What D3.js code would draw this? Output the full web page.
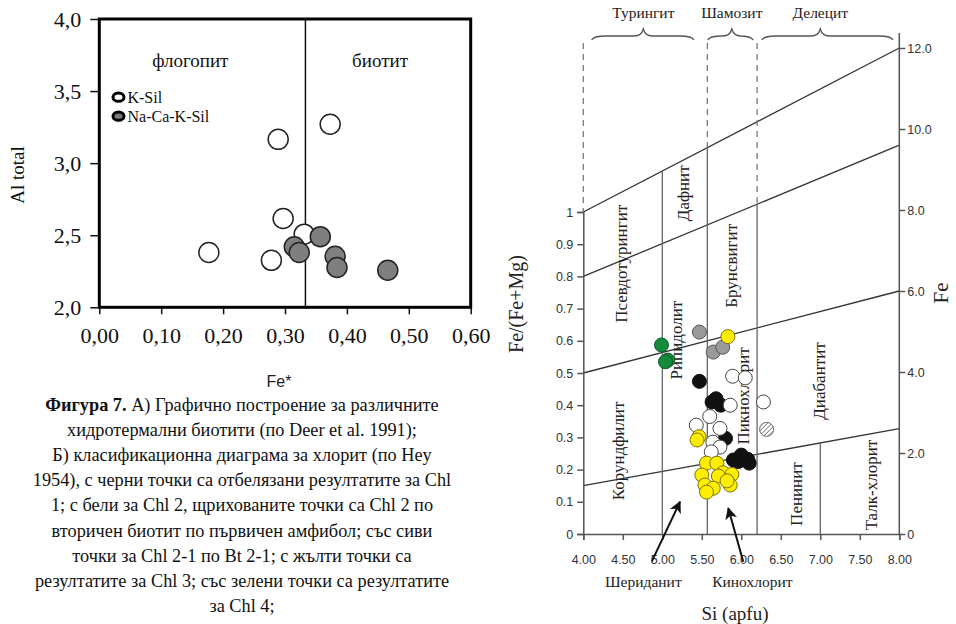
<!DOCTYPE html>
<html>
<head>
<meta charset="utf-8">
<script src="https://cdn.jsdelivr.net/npm/d3@7"></script>
<style>
  body { margin: 0; background: #fff; }
  svg { display: block; }
</style>
</head>
<body>
<svg id="fig" width="956" height="624"></svg>
<script>
// ---------- Panel A: hydrothermal biotites, Fe* vs Al total ----------
const bioKSilFe  = [0.289, 0.373, 0.297, 0.331, 0.177, 0.278];
const bioKSilAl  = [3.165, 3.270, 2.616, 2.507, 2.380, 2.326];
const bioNaCaFe  = [0.357, 0.315, 0.323, 0.381, 0.384, 0.466];
const bioNaCaAl  = [2.490, 2.420, 2.380, 2.354, 2.276, 2.257];
const feStarTicks = [0, 0.1, 0.2, 0.3, 0.4, 0.5, 0.6];
const alTicks     = [2.0, 2.5, 3.0, 3.5, 4.0];
const fieldSplitFe = 0.333;
const fieldNames   = ["флогопит", "биотит"];
const fieldNameFe  = [0.147, 0.4535];
const fieldNameAl  = 3.715;
const legendNames  = ["K-Sil", "Na-Ca-K-Sil"];
const legendAl     = [3.458, 3.326];
const legendFe     = 0.031;

// ---------- Panel B: chlorite classification (Si vs Fe/(Fe+Mg)) ----------
const chl1Si   = [5.47, 5.63, 5.68, 5.74, 5.80, 5.90, 6.00, 6.08, 6.10, 5.96];
const chl1Ratio= [0.474, 0.410, 0.420, 0.400, 0.297, 0.230, 0.245, 0.232, 0.220, 0.225];
const chl2Si   = [5.89, 6.05, 5.86, 6.28, 5.60, 5.43, 5.73, 5.64, 5.73, 5.62];
const chl2Ratio= [0.490, 0.485, 0.400, 0.410, 0.365, 0.338, 0.328, 0.285, 0.270, 0.255];
const chl2BtSi   = [6.32];
const chl2BtRatio= [0.325];
const chl21Si   = [5.47, 5.645, 5.765];
const chl21Ratio= [0.627, 0.565, 0.580];
const chl3Si   = [5.83, 5.465, 5.44, 5.56, 5.69, 5.50, 5.77, 5.88, 5.71, 5.54, 5.645, 5.86, 5.56, 5.82];
const chl3Ratio= [0.613, 0.302, 0.292, 0.220, 0.220, 0.183, 0.190, 0.185, 0.180, 0.152, 0.142, 0.152, 0.130, 0.165];
const chl4Si   = [4.99, 5.07, 5.04];
const chl4Ratio= [0.587, 0.540, 0.535];

const siTicks    = [4.0, 4.5, 5.0, 5.5, 6.0, 6.5, 7.0, 7.5, 8.0];
const ratioTicks = [0, 0.1, 0.2, 0.3, 0.4, 0.5, 0.6, 0.7, 0.8, 0.9, 1.0];
const feTicks    = [0, 2, 4, 6, 8, 10, 12];

// sloping boundaries: start as Fe/(Fe+Mg) at Si = 4, end as Fe at Si = 8
const slopeStartRatio = [1.0, 0.8, 0.5, 0.15];
const slopeEndFe      = [12.0, 9.6, 6.0, 2.6];

// vertical boundaries (Si) and the sloping line each one turns solid at
const boundSi       = [5.0, 5.57, 6.2, 7.0];
const boundSolidFrom= [0, 0, 1, 3];
const boundDashed   = [false, true, true, false];
const dashTopRatio  = 1.525;
const axisTopRatio  = 1.556;

const groupNames = ["Турингит", "Шамозит", "Делецит"];
const groupFrom  = [4.105, 5.575, 6.26];
const groupTo    = [5.40, 6.15, 7.92];
const groupTip   = [4.76, 5.88, 7.0];

const zoneNames = ["Псевдотурингит", "Дафнит", "Брунсвигит", "Рипидолит", "Пикнохлорит",
                   "Диабантит", "Корундфилит", "Пенинит", "Талк-хлорит"];
const zoneSi    = [4.486, 5.266, 5.878, 5.182, 6.022, 6.996, 4.443, 6.70, 7.65];
const zoneRatio = [0.839, 1.058, 0.833, 0.602, 0.429, 0.475, 0.258, 0.124, 0.152];

const pointerNames   = ["Шериданит", "Кинохлорит"];
const pointerFromSi  = [4.866, 6.025];
const pointerToSi    = [5.224, 5.835];
const pointerFromR   = [-0.086, -0.086];
const pointerToR     = [0.100, 0.080];
const pointerLabelSi = [4.76, 6.14];
const pointerLabelR  = [-0.146, -0.146];

const captionLines = [
  ["Фигура 7.", " А) Графично построение за различните"],
  ["", "хидротермални биотити (по Deer et al. 1991);"],
  ["", "Б) класификационна диаграма за хлорит (по Hey"],
  ["", "1954), с черни точки са отбелязани резултатите за Chl"],
  ["", "1; с бели за Chl 2, щрихованите точки са Chl 2 по"],
  ["", "вторичен биотит по първичен амфибол; със сиви"],
  ["", "точки за Chl 2-1 по Bt 2-1; с жълти точки са"],
  ["", "резултатите за Chl 3; със зелени точки са резултатите"],
  ["", "за Chl 4;"]
];

const svg = d3.select("#fig");
const serif = "'Liberation Serif', 'Times New Roman', serif";
const sans  = "'Liberation Sans', Arial, sans-serif";

// ================= Panel A =================
const xA = d3.scaleLinear().domain([0, 0.6]).range([99.3, 470.7]);
const yA = d3.scaleLinear().domain([2, 4]).range([307.3, 19]);
const gA = svg.append("g");

const commaFmt = f => d => d3.format(f)(d).replace(".", ",");

const axA_left = gA.append("g").attr("transform", `translate(${xA(0)},0)`)
  .call(d3.axisLeft(yA).tickValues(alTicks).tickFormat(commaFmt(".1f")).tickSize(9).tickPadding(9));
const axA_bot = gA.append("g").attr("transform", `translate(0,${yA(2)})`)
  .call(d3.axisBottom(xA).tickValues(feStarTicks).tickFormat(commaFmt(".2f")).tickSize(7).tickPadding(13));
[axA_left, axA_bot].forEach(a => {
  a.select(".domain").remove();
  a.selectAll(".tick line").attr("stroke", "#111").attr("stroke-width", 1.5);
  a.selectAll("text").attr("font-family", serif).attr("font-size", 22).attr("fill", "#111");
});

// field divider
gA.append("line")
  .attr("x1", xA(fieldSplitFe)).attr("x2", xA(fieldSplitFe))
  .attr("y1", yA(4)).attr("y2", yA(2))
  .attr("stroke", "#111").attr("stroke-width", 1.5);

// frame
gA.append("rect")
  .attr("x", xA(0)).attr("y", yA(4))
  .attr("width", xA(0.6) - xA(0)).attr("height", yA(2) - yA(4))
  .attr("fill", "none").attr("stroke", "#000").attr("stroke-width", 3);

gA.selectAll("text.field").data(fieldNames).join("text")
  .attr("class", "field")
  .attr("x", (d, i) => xA(fieldNameFe[i])).attr("y", yA(fieldNameAl))
  .attr("text-anchor", "middle").attr("dominant-baseline", "central")
  .attr("font-family", serif).attr("font-size", 19).attr("fill", "#111")
  .text(d => d);

// legend
const legFill = ["#fff", "#7a7a7a"];
legendNames.forEach((name, i) => {
  gA.append("ellipse")
    .attr("cx", xA(legendFe)).attr("cy", yA(legendAl[i]))
    .attr("rx", 5.5).attr("ry", 4.2)
    .attr("fill", legFill[i]).attr("stroke", "#000").attr("stroke-width", 3);
  gA.append("text")
    .attr("x", xA(legendFe) + 9).attr("y", yA(legendAl[i]))
    .attr("dominant-baseline", "central")
    .attr("font-family", serif).attr("font-size", 16).attr("fill", "#111")
    .text(name);
});

// biotite points
const ptsA = [
  { fe: bioKSilFe, al: bioKSilAl, fill: "#fff" },
  { fe: bioNaCaFe, al: bioNaCaAl, fill: "#7f7f7f" }
];
ptsA.forEach(s => {
  gA.append("g").selectAll("circle").data(s.fe).join("circle")
    .attr("cx", d => xA(d)).attr("cy", (d, i) => yA(s.al[i]))
    .attr("r", 10).attr("fill", s.fill)
    .attr("stroke", "#222").attr("stroke-width", 1.5);
});

// axis titles
gA.append("text")
  .attr("transform", `translate(17,175) rotate(-90)`)
  .attr("text-anchor", "middle").attr("dominant-baseline", "central")
  .attr("font-family", serif).attr("font-size", 19).attr("fill", "#111")
  .text("Al total");
gA.append("text")
  .attr("x", 279).attr("y", 381)
  .attr("text-anchor", "middle").attr("dominant-baseline", "central")
  .attr("font-family", sans).attr("font-size", 16).attr("fill", "#222")
  .text("Fe*");

// caption
const cap = svg.append("g");
captionLines.forEach((ln, i) => {
  const t = cap.append("text")
    .attr("x", 242).attr("y", 411 + i * 25.1)
    .attr("text-anchor", "middle")
    .attr("font-family", serif).attr("font-size", 18.3).attr("fill", "#111");
  if (ln[0]) t.append("tspan").attr("font-weight", "bold").text(ln[0]);
  t.append("tspan").text(ln[1]);
});

// ================= Panel B =================
const xB  = d3.scaleLinear().domain([4, 8]).range([583.3, 899.3]);
const yB  = d3.scaleLinear().domain([0, 1]).range([534, 212]);
const yFe = d3.scaleLinear().domain([0, 12]).range([534, 48]);
const gB = svg.append("g");

const lineCol = "#333", boundCol = "#666", dashCol = "#7a7a7a";

// sloping boundaries in pixel space
const slopes = slopeStartRatio.map((r, i) => ({
  x1: xB(4), y1: yB(r), x2: xB(8), y2: yFe(slopeEndFe[i])
}));
const slopeYAt = (k, si) => {
  const s = slopes[k], px = xB(si);
  return s.y1 + (s.y2 - s.y1) * (px - s.x1) / (s.x2 - s.x1);
};
gB.append("g").selectAll("line").data(slopes).join("line")
  .attr("x1", d => d.x1).attr("y1", d => d.y1)
  .attr("x2", d => d.x2).attr("y2", d => d.y2)
  .attr("stroke", lineCol).attr("stroke-width", 1.3);

// vertical boundaries
boundSi.forEach((si, i) => {
  const ySolid = slopeYAt(boundSolidFrom[i], si);
  if (boundDashed[i]) {
    gB.append("line")
      .attr("x1", xB(si)).attr("x2", xB(si))
      .attr("y1", yB(dashTopRatio)).attr("y2", ySolid)
      .attr("stroke", dashCol).attr("stroke-width", 1.3).attr("stroke-dasharray", "6,5");
  }
  gB.append("line")
    .attr("x1", xB(si)).attr("x2", xB(si))
    .attr("y1", ySolid).attr("y2", yB(0))
    .attr("stroke", boundCol).attr("stroke-width", 1.3);
});
// dashed upper part of the left axis
gB.append("line")
  .attr("x1", xB(4)).attr("x2", xB(4))
  .attr("y1", yB(dashTopRatio)).attr("y2", yB(1))
  .attr("stroke", dashCol).attr("stroke-width", 1.3).attr("stroke-dasharray", "6,5");

// axes
const axB_left = gB.append("g").attr("transform", `translate(${xB(4)},0)`)
  .call(d3.axisLeft(yB).tickValues(ratioTicks)
    .tickFormat(d => (d === 0 || d === 1) ? String(d) : d3.format(".1f")(d))
    .tickSize(6).tickPadding(4));
const axB_bot = gB.append("g").attr("transform", `translate(0,${yB(0)})`)
  .call(d3.axisBottom(xB).tickValues(siTicks).tickFormat(d3.format(".2f"))
    .tickSize(6).tickPadding(15));
const axB_right = gB.append("g").attr("transform", `translate(${xB(8)},0)`)
  .call(d3.axisRight(yFe).tickValues(feTicks)
    .tickFormat(d => d === 0 ? "0" : d3.format(".1f")(d))
    .tickSize(6).tickPadding(2));
axB_right.select(".domain").attr("d", `M0,${yB(axisTopRatio)}V${yFe(0)}`);
[axB_left, axB_bot, axB_right].forEach(a => {
  a.select(".domain").attr("stroke", "#555").attr("stroke-width", 1.5);
  a.selectAll(".tick line").attr("stroke", "#555").attr("stroke-width", 1.5);
  a.selectAll("text").attr("font-family", sans).attr("font-size", 12.5).attr("fill", "#333");
});

// group braces and names
groupNames.forEach((name, i) => {
  const a = xB(groupFrom[i]), b = xB(groupTo[i]), c = xB(groupTip[i]);
  const yb = 40, yf = 36, yt = 29;
  const p = d3.path();
  p.moveTo(a, yb);
  p.quadraticCurveTo(a + 2, yf, a + 14, yf);
  p.lineTo(c - 9, yf);
  p.quadraticCurveTo(c - 2, yf, c, yt);
  p.quadraticCurveTo(c + 2, yf, c + 9, yf);
  p.lineTo(b - 14, yf);
  p.quadraticCurveTo(b - 2, yf, b, yb);
  gB.append("path").attr("d", p.toString())
    .attr("fill", "none").attr("stroke", "#555").attr("stroke-width", 1.3);
  gB.append("text")
    .attr("x", c).attr("y", 18)
    .attr("text-anchor", "middle")
    .attr("font-family", serif).attr("font-size", 15.5).attr("fill", "#222")
    .text(name);
});

// zone names, vertical
gB.append("g").selectAll("text").data(zoneNames).join("text")
  .attr("transform", (d, i) => `translate(${xB(zoneSi[i])},${yB(zoneRatio[i])}) rotate(-90)`)
  .attr("text-anchor", "middle").attr("dominant-baseline", "central")
  .attr("font-family", serif).attr("font-size", 17).attr("fill", "#222")
  .text(d => d);

// hatch pattern for Chl 2 over biotite
const defs = svg.append("defs");
const pat = defs.append("pattern").attr("id", "hatch")
  .attr("patternUnits", "userSpaceOnUse").attr("width", 3.2).attr("height", 3.2)
  .attr("patternTransform", "rotate(45)");
pat.append("rect").attr("width", 3.2).attr("height", 3.2).attr("fill", "#fff");
pat.append("line").attr("x1", 0).attr("y1", 0).attr("x2", 0).attr("y2", 3.2)
  .attr("stroke", "#777").attr("stroke-width", 1.6);

// chlorite analyses
const series = [
  { si: chl1Si,   r: chl1Ratio,   fill: "#111",        stroke: "#111" },
  { si: chl2Si,   r: chl2Ratio,   fill: "#fff",        stroke: "#444" },
  { si: chl2BtSi, r: chl2BtRatio, fill: "url(#hatch)", stroke: "#666" },
  { si: chl21Si,  r: chl21Ratio,  fill: "#9b9b9b",     stroke: "#555" },
  { si: chl4Si,   r: chl4Ratio,   fill: "#138a3c",     stroke: "#0d5a27" },
  { si: chl3Si,   r: chl3Ratio,   fill: "#ffee00",     stroke: "#7d7000" }
];
series.forEach(s => {
  gB.append("g").selectAll("circle").data(s.si).join("circle")
    .attr("cx", d => xB(d)).attr("cy", (d, i) => yB(s.r[i]))
    .attr("r", 7).attr("fill", s.fill)
    .attr("stroke", s.stroke).attr("stroke-width", 1);
});

// pointers to the small fields
defs.append("marker").attr("id", "head")
  .attr("viewBox", "0 0 10 10").attr("refX", 9).attr("refY", 5)
  .attr("markerWidth", 6).attr("markerHeight", 6).attr("orient", "auto")
  .append("path").attr("d", "M0,0 L10,5 L0,10 L2.5,5 Z").attr("fill", "#111");
pointerNames.forEach((name, i) => {
  gB.append("line")
    .attr("x1", xB(pointerFromSi[i])).attr("y1", yB(pointerFromR[i]))
    .attr("x2", xB(pointerToSi[i])).attr("y2", yB(pointerToR[i]))
    .attr("stroke", "#111").attr("stroke-width", 2)
    .attr("marker-end", "url(#head)");
  gB.append("text")
    .attr("x", xB(pointerLabelSi[i])).attr("y", yB(pointerLabelR[i]))
    .attr("text-anchor", "middle").attr("dominant-baseline", "central")
    .attr("font-family", serif).attr("font-size", 15.5).attr("fill", "#222")
    .text(name);
});

// axis titles
gB.append("text")
  .attr("transform", `translate(516,304) rotate(-90)`)
  .attr("text-anchor", "middle").attr("dominant-baseline", "central")
  .attr("font-family", serif).attr("font-size", 20).attr("fill", "#222")
  .text("Fe/(Fe+Mg)");
gB.append("text")
  .attr("transform", `translate(941,293) rotate(-90)`)
  .attr("text-anchor", "middle").attr("dominant-baseline", "central")
  .attr("font-family", serif).attr("font-size", 21).attr("fill", "#222")
  .text("Fe");
gB.append("text")
  .attr("x", 735).attr("y", 613)
  .attr("text-anchor", "middle").attr("dominant-baseline", "central")
  .attr("font-family", serif).attr("font-size", 19).attr("fill", "#222")
  .text("Si (apfu)");
</script>
</body>
</html>
